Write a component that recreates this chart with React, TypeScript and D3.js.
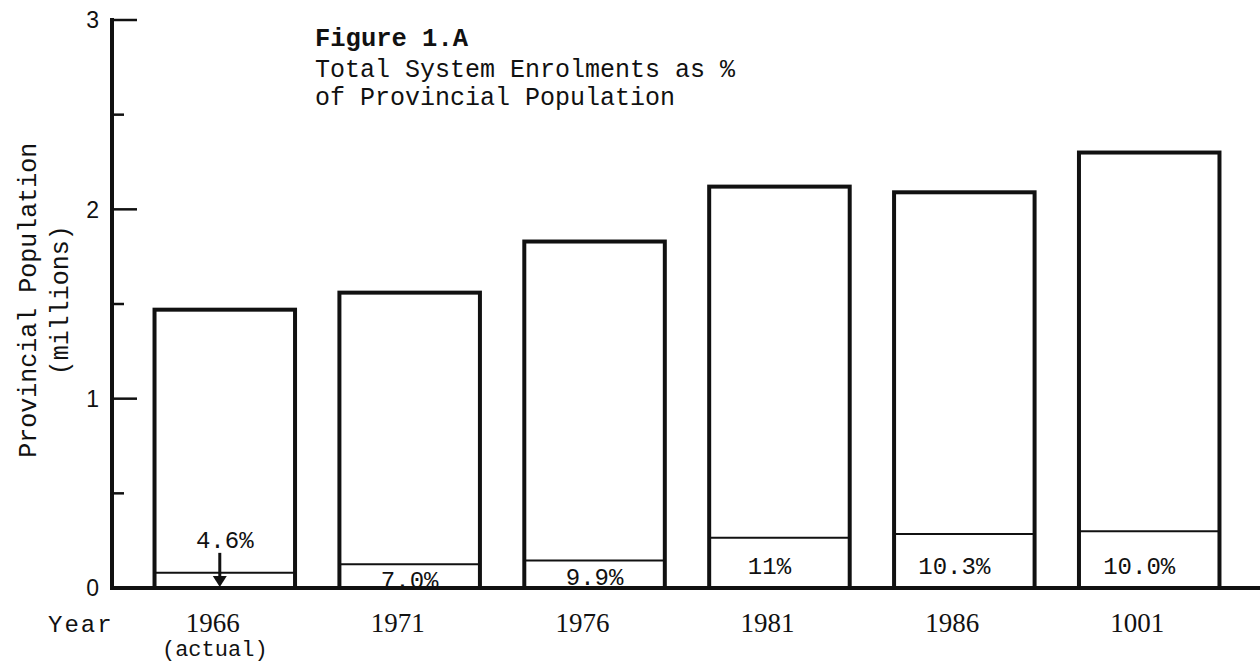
import * as d3 from 'd3';
import React from 'react';

const years = ['1966', '1971', '1976', '1981', '1986', '1001'];
const subLabels = ['(actual)', '', '', '', '', ''];
const population = [1.47, 1.56, 1.83, 2.12, 2.09, 2.3];
const enrolment = [0.08, 0.125, 0.145, 0.265, 0.285, 0.3];
const pctLabels = ['4.6%', '7.0%', '9.9%', '11%', '10.3%', '10.0%'];
const yTicks = [0, 0.5, 1, 1.5, 2, 2.5, 3];
const titleLines = ['Total System Enrolments as %', 'of Provincial Population'];

const mono = '"Liberation Mono", "Courier New", monospace';
const serif = '"Liberation Serif", "Times New Roman", serif';
const sans = '"Liberation Sans", Arial, sans-serif';

function App() {
  const width = 1260;
  const height = 663;
  const axisX = 112;

  const y = d3.scaleLinear().domain([0, 3]).range([588, 20]);
  const x = d3
    .scaleBand<string>()
    .domain(years)
    .range([axisX, 1262])
    .paddingInner(0.24)
    .paddingOuter(0.23);

  const bw = x.bandwidth();

  return (
    <svg width={width} height={height} style={{ display: 'block', position: 'absolute', left: 0, top: 0, background: '#fff' }}>
      <rect x={0} y={0} width={width} height={height} fill="#fff" />

      {/* title block */}
      <text x={315} y={46} fontFamily={mono} fontSize={25.5} fontWeight="bold" fill="#111">
        Figure 1.A
      </text>
      {titleLines.map((t, i) => (
        <text key={t} x={315} y={77 + i * 28} fontFamily={mono} fontSize={25} fill="#111">
          {t}
        </text>
      ))}

      {/* bars */}
      <g className="plot-area">
        {years.map((yr, i) => {
          const x0 = x(yr) || 0;
          const cx = x0 + bw / 2;
          const top = y(population[i]);
          const inner = y(enrolment[i]);
          const small = enrolment[i] < 0.2;
          return (
            <g key={yr}>
              <rect x={x0} y={top} width={bw} height={y(0) - top} fill="none" stroke="#111" strokeWidth={4} />
              <line x1={x0} x2={x0 + bw} y1={inner} y2={inner} stroke="#111" strokeWidth={2} />
              {i === 0 ? (
                <g>
                  <text x={cx} y={inner - 25} textAnchor="middle" fontFamily={mono} fontSize={24} fill="#111">
                    {pctLabels[i]}
                  </text>
                  <line x1={cx - 5} x2={cx - 5} y1={inner - 20} y2={y(0) - 8} stroke="#111" strokeWidth={3} />
                  <path
                    d={`M${cx - 12},${y(0) - 12} L${cx + 2},${y(0) - 12} L${cx - 5},${y(0) - 1} Z`}
                    fill="#111"
                  />
                </g>
              ) : (
                <text
                  x={cx - (small ? 0 : 10)}
                  y={small ? inner + 24 : y(0) - 14}
                  textAnchor="middle"
                  fontFamily={mono}
                  fontSize={24}
                  fill="#111"
                >
                  {pctLabels[i]}
                </text>
              )}
              <text x={cx - 12} y={632} textAnchor="middle" fontFamily={serif} fontSize={27} fill="#111">
                {yr}
              </text>
              {subLabels[i] && (
                <text x={cx - 10} y={656} textAnchor="middle" fontFamily={mono} fontSize={22} fill="#111">
                  {subLabels[i]}
                </text>
              )}
            </g>
          );
        })}
      </g>

      {/* axes */}
      <line x1={axisX} x2={width} y1={y(0)} y2={y(0)} stroke="#111" strokeWidth={4} />
      <line x1={axisX} x2={axisX} y1={y(3) - 2} y2={y(0) + 2} stroke="#111" strokeWidth={4} />
      {yTicks.map((t) => {
        const major = Number.isInteger(t);
        return (
          <g key={t}>
            {t > 0 && (
              <line x1={axisX} x2={axisX + (major ? 25 : 12)} y1={y(t)} y2={y(t)} stroke="#111" strokeWidth={2.5} />
            )}
            {major && (
              <text x={99} y={y(t)} dy="0.36em" textAnchor="end" fontFamily={sans} fontSize={23} fill="#111">
                {t}
              </text>
            )}
          </g>
        );
      })}

      <text x={48} y={632} fontFamily={mono} fontSize={24} letterSpacing={2} fill="#111">
        Year
      </text>

      <g transform={`translate(36, ${y(1.52)}) rotate(-90)`}>
        <text textAnchor="middle" fontFamily={mono} fontSize={25} fill="#111">
          Provincial Population
        </text>
        <text y={32} textAnchor="middle" fontFamily={mono} fontSize={25} fill="#111">
          (millions)
        </text>
      </g>
    </svg>
  );
}

export default App;
